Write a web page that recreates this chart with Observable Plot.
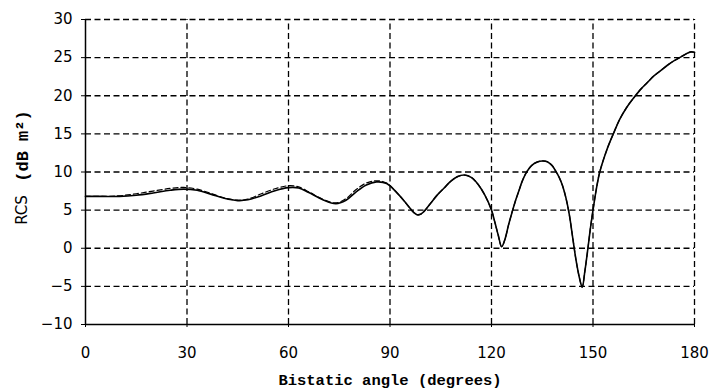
<!DOCTYPE html>
<html><head><meta charset="utf-8">
<script src="https://cdn.jsdelivr.net/npm/d3@7"></script>
<script src="https://cdn.jsdelivr.net/npm/@observablehq/plot@0.6"></script>
<style>body{margin:0;background:#fff}</style>
</head><body><div id="chart"></div>
<script>
const angles = [0,5,10,15,20,25,29,33,37,41,45,48,52,56,60,63,66,70,74,77,80,83,86,89,92,94,96,97,98,99,100,102,104,106,108,110,112,114,116,118,120,121,122,123,124,125,126,127,128,129,130,131,132,133.5,135,136.5,138,139,140,141,142,143,144,145,146,146.8,147.6,148.5,149.2,150,151,152,154,156,158,160,162,164,166,168,170,172,174,176,178,179,180];
const rcsSolid = [6.8,6.8,6.8,6.95,7.25,7.6,7.75,7.6,7.1,6.55,6.25,6.35,6.9,7.55,7.95,7.9,7.3,6.4,5.85,6.3,7.4,8.3,8.7,8.5,7.3,6.3,5.2,4.7,4.4,4.45,4.8,5.9,7.0,7.9,8.8,9.4,9.6,9.3,8.4,7.0,5.0,3.4,1.7,0.2,1.2,3.0,4.6,6.1,7.4,8.7,9.7,10.4,10.9,11.3,11.45,11.35,10.8,10.1,9.3,8.2,6.6,4.4,1.4,-1.6,-3.9,-5.1,-3.0,0,2.5,5.0,7.8,10.0,12.8,15.0,17.0,18.5,19.7,20.8,21.7,22.6,23.3,24.0,24.6,25.1,25.6,25.75,25.7];
const rcsDashed = [6.8,6.8,6.88,7.15,7.5,7.85,7.98,7.75,7.2,6.6,6.3,6.45,7.15,7.8,8.2,8.05,7.4,6.45,5.95,6.5,7.7,8.55,8.85,8.55,7.3,6.3,5.2,4.7,4.4,4.45,4.8,5.9,7.0,7.9,8.8,9.4,9.6,9.3,8.4,7.0,5.0,3.4,1.7,0.2,1.2,3.0,4.6,6.1,7.4,8.7,9.7,10.4,10.9,11.3,11.45,11.35,10.8,10.1,9.3,8.2,6.6,4.4,1.4,-1.6,-3.9,-5.1,-3.0,0,2.5,5.0,7.8,10.0,12.8,15.0,17.0,18.5,19.7,20.8,21.7,22.6,23.3,24.0,24.6,25.1,25.6,25.75,25.7];
const xTicks = [0,30,60,90,120,150,180];
const yTicks = [-10,-5,0,5,10,15,20,25,30];
const xLabel = "Bistatic angle (degrees)";
const yLabelA = "RCS";
const yLabelB = "(dB m²)";

const solidData = angles.map((a, i) => ({angle: a, rcs: rcsSolid[i]}));
const dashedData = angles.map((a, i) => ({angle: a, rcs: rcsDashed[i]}));
const gridX = xTicks.filter(d => d > 0);
const gridY = yTicks.filter(d => d > -10);

const chart = Plot.plot({
  width: 710,
  height: 391,
  marginLeft: 85,
  marginRight: 16,
  marginTop: 19,
  marginBottom: 67,
  style: {fontFamily: "'DejaVu Sans', sans-serif", fontSize: "15px", color: "#000", background: "#fff"},
  x: {domain: [0, 180], ticks: xTicks, label: null},
  y: {domain: [-10, 30], ticks: yTicks, label: null},
  marks: [
    Plot.ruleX(gridX, {y1: -10, y2: 30, stroke: "#000", strokeWidth: 1.3, strokeDasharray: "6,3.5"}),
    Plot.ruleY(gridY, {x1: 0, x2: 180, stroke: "#000", strokeWidth: 1.3, strokeDasharray: "6,3.5"}),
    Plot.ruleX([0], {y1: -10, y2: 30, stroke: "#000", strokeWidth: 1.5}),
    Plot.ruleY([-10], {x1: 0, x2: 180, stroke: "#000", strokeWidth: 1.5}),
    Plot.axisX({ticks: xTicks, tickSize: 3, tickPadding: 20, tickFormat: d => String(d), fontSize: 15, label: null}),
    Plot.axisY({ticks: yTicks, tickSize: 4, tickPadding: 9, fontSize: 15, label: null}),
    Plot.line(dashedData, {x: "angle", y: "rcs", stroke: "#000", strokeWidth: 1.2, strokeDasharray: "5,3", curve: "catmull-rom"}),
    Plot.line(solidData, {x: "angle", y: "rcs", stroke: "#000", strokeWidth: 1.6, curve: "catmull-rom"}),
    Plot.text([xLabel], {frameAnchor: "bottom", dy: 60, fontFamily: "'Liberation Mono', monospace", fontWeight: "bold", fontSize: 15.5, fill: "#000"}),
    Plot.text([yLabelA], {frameAnchor: "left", textAnchor: "middle", dx: -63, dy: 38, rotate: -90, fontFamily: "'DejaVu Sans', sans-serif", fontSize: 15, fill: "#000"}),
    Plot.text([yLabelB], {frameAnchor: "left", textAnchor: "middle", dx: -63, dy: -26, rotate: -90, fontFamily: "'Liberation Mono', monospace", fontWeight: "bold", fontSize: 17, fill: "#000"})
  ]
});
document.getElementById("chart").appendChild(chart);
</script>
</body></html>
